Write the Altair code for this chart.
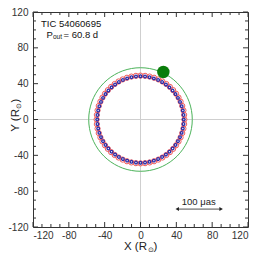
import altair as alt
import pandas as pd

# ---------------- data ----------------
ring_angles = [0, 6, 12, 18, 24, 30, 36, 42, 48, 54, 60, 66, 72, 78, 84, 90, 96, 102,
               108, 114, 120, 126, 132, 138, 144, 150, 156, 162, 168, 174, 180, 186,
               192, 198, 204, 210, 216, 222, 228, 234, 240, 246, 252, 258, 264, 270,
               276, 282, 288, 294, 300, 306, 312, 318, 324, 330, 336, 342, 348, 354]
ring_radius_red = [49.0]
ring_radius_blue = [48.3]
orbit_angles = [0, 5, 10, 15, 20, 25, 30, 35, 40, 45, 50, 55, 60, 65, 70, 75, 80, 85, 90,
                95, 100, 105, 110, 115, 120, 125, 130, 135, 140, 145, 150, 155, 160, 165,
                170, 175, 180, 185, 190, 195, 200, 205, 210, 215, 220, 225, 230, 235, 240,
                245, 250, 255, 260, 265, 270, 275, 280, 285, 290, 295, 300, 305, 310, 315,
                320, 325, 330, 335, 340, 345, 350, 355, 360]
orbit_radius = [57.8]
companion_x = [25.5]
companion_y = [53.0]
major_ticks = [-120, -80, -40, 0, 40, 80, 120]
minor_ticks = [-110, -100, -90, -70, -60, -50, -30, -20, -10,
               10, 20, 30, 50, 60, 70, 90, 100, 110]
scale_bar_x = [41.0, 90.0]
scale_bar_y = [-100.0]
scale_bar_label = "100 \u03bcas"
title_text = "TIC 54060695"
period_text = "= 60.8 d"

W, H = 215, 215
FONT = "Liberation Sans"
AX = "#333333"

xs = alt.Scale(domain=[-120, 120], nice=False, zero=False)
ys = alt.Scale(domain=[-120, 120], nice=False, zero=False)
xaxis = alt.Axis(values=major_ticks, labelExpr="'' + datum.value", title=None,
                 labelPadding=3, ticks=False, domain=False, grid=False)
yaxis = alt.Axis(values=major_ticks, labelExpr="'' + datum.value", title=None,
                 labelPadding=5, ticks=False, domain=False, grid=False)


def X(f):
    return alt.X(f, type="quantitative", scale=xs, axis=xaxis)


def Y(f):
    return alt.Y(f, type="quantitative", scale=ys, axis=yaxis)


one = pd.DataFrame({"k": [0]})

# grid lines at zero
zero_df = pd.DataFrame({"v": [0]})
gx = alt.Chart(zero_df).mark_rule(color="#cfcfcf", strokeWidth=1).encode(x=X("v"))
gy = alt.Chart(zero_df).mark_rule(color="#cfcfcf", strokeWidth=1).encode(y=Y("v"))

# green orbit circle
orbit_df = pd.DataFrame({"a": orbit_angles, "r": orbit_radius * len(orbit_angles)})
orbit = alt.Chart(orbit_df).transform_calculate(
    x="datum.r*cos(datum.a*PI/180)", y="datum.r*sin(datum.a*PI/180)"
).mark_line(color="#4cb35a", strokeWidth=1).encode(x=X("x"), y=Y("y"), order="a:Q")

# red open circles
red_df = pd.DataFrame({"a": ring_angles, "r": ring_radius_red * len(ring_angles)})
red = alt.Chart(red_df).transform_calculate(
    x="datum.r*cos(datum.a*PI/180)", y="datum.r*sin(datum.a*PI/180)"
).mark_point(shape="circle", filled=False, color="#f05a5a", size=27, strokeWidth=1,
             opacity=1).encode(x=X("x"), y=Y("y"))

# blue markers
blue_df = pd.DataFrame({"a": ring_angles, "r": ring_radius_blue * len(ring_angles)})
blue = alt.Chart(blue_df).transform_calculate(
    x="datum.r*cos(datum.a*PI/180)", y="datum.r*sin(datum.a*PI/180)"
).mark_point(shape="circle", filled=False, color="#2b2ba6", size=7, strokeWidth=1.3,
             opacity=1).encode(x=X("x"), y=Y("y"))

# companion
comp_df = pd.DataFrame({"x": companion_x, "y": companion_y})
comp = alt.Chart(comp_df).mark_point(shape="circle", filled=True, color="#0a7d0a",
                                     size=155, opacity=1).encode(x=X("x"), y=Y("y"))

# scale bar
bar_df = pd.DataFrame({"x": [scale_bar_x[0]], "x2": [scale_bar_x[1]], "y": scale_bar_y})
bar = alt.Chart(bar_df).mark_rule(color="#222222", strokeWidth=0.8).encode(
    x=X("x"), x2="x2:Q", y=Y("y"))
headL = alt.Chart(pd.DataFrame({"x": [scale_bar_x[0]], "y": scale_bar_y})).mark_point(
    shape="triangle-left", filled=True, color="#222222", size=16, opacity=1
).encode(x=X("x"), y=Y("y"))
headR = alt.Chart(pd.DataFrame({"x": [scale_bar_x[1]], "y": scale_bar_y})).mark_point(
    shape="triangle-right", filled=True, color="#222222", size=16, opacity=1
).encode(x=X("x"), y=Y("y"))
bar_lbl = alt.Chart(pd.DataFrame({"x": [65.0], "y": [-92.5], "t": [scale_bar_label]})).mark_text(
    font=FONT, fontSize=9.5, color="#222222", baseline="middle", align="center"
).encode(x=X("x"), y=Y("y"), text="t:N")


def txt(s, x, y, size, align, angle=0, color="#222222"):
    kw = dict(text=s, font=FONT, fontSize=size, color=color, baseline="middle",
              align=align)
    if angle:
        kw["angle"] = angle
    return alt.Chart(one).mark_text(**kw).encode(x=alt.value(x), y=alt.value(y))


# in-plot labels
t1 = txt(title_text, 8, 11.5, 9.5, "left", color="#111111")
tP = txt("P", 13.5, 22.5, 9.5, "left", color="#111111")
tout = txt("out", 20, 24.5, 6.5, "left", color="#111111")
tval = txt(period_text, 30.5, 22.5, 9.5, "left", color="#111111")

# axis titles (with subscript sun symbol)
xt1 = txt("X (R", 114, 235, 11.5, "right")
xt2 = txt("\u2299", 114.5, 238, 6.5, "left")
xt3 = txt(")", 120.5, 235, 11.5, "left")
yt1 = txt("Y (R", -17.5, 97, 11.5, "right", 270)
yt2 = txt("\u2299", -14.5, 96.5, 6.5, "left", 270)
yt3 = txt(")", -17.5, 90.5, 11.5, "left", 270)


# inward ticks
def ticks(vals, side, length):
    df = pd.DataFrame({"v": vals})
    m = alt.Chart(df).mark_rule(color=AX, strokeWidth=1)
    if side == "bottom":
        return m.encode(x=X("v"), y=alt.value(H), y2=alt.value(H - length))
    if side == "top":
        return m.encode(x=X("v"), y=alt.value(0), y2=alt.value(length))
    if side == "left":
        return m.encode(y=Y("v"), x=alt.value(0), x2=alt.value(length))
    return m.encode(y=Y("v"), x=alt.value(W), x2=alt.value(W - length))


tick_layers = []
for side in ["bottom", "top", "left", "right"]:
    tick_layers.append(ticks(major_ticks, side, 5))
    tick_layers.append(ticks(minor_ticks, side, 3))

chart = alt.layer(
    gx, gy, orbit, red, blue, comp, bar, headL, headR, bar_lbl, t1, tP, tout, tval,
    xt1, xt2, xt3, yt1, yt2, yt3, *tick_layers
).properties(
    width=W, height=H,
    autosize=alt.AutoSizeParams(type="none"),
    padding={"left": 25, "top": 4, "right": 10, "bottom": 26},
    background="white",
).configure_view(
    stroke=AX, strokeWidth=1
).configure_axis(
    labelFont=FONT, labelFontSize=10, labelColor="#333333"
)

chart.save("out.html", embed_options={"renderer": "svg", "actions": False})
